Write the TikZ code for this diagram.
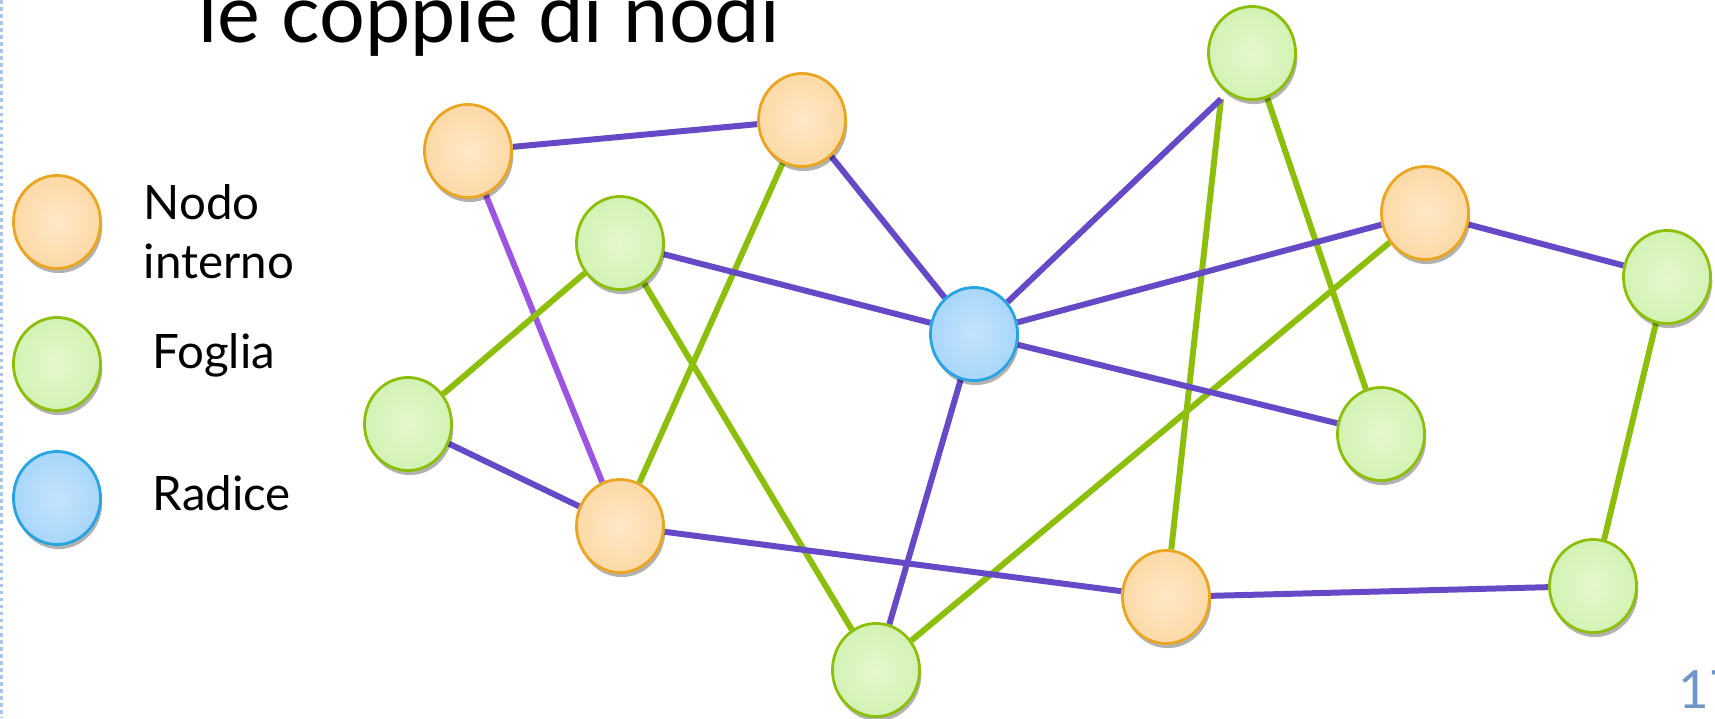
\documentclass[tikz,border=0pt]{standalone}
\usepackage{fontspec}
\setmainfont{Lato}
\usetikzlibrary{positioning,shapes.geometric,shadows,backgrounds}

\definecolor{intdraw}{HTML}{E8A623}
\definecolor{intin}{HTML}{FFE8C8}
\definecolor{intout}{HTML}{FDD9A6}
\definecolor{leafdraw}{HTML}{8CBE0A}
\definecolor{leafin}{HTML}{E4F8CC}
\definecolor{leafout}{HTML}{D4F2B4}
\definecolor{raddraw}{HTML}{2AA4E0}
\definecolor{radin}{HTML}{C4E4FC}
\definecolor{radout}{HTML}{A8D6FA}
\definecolor{viola}{HTML}{6549C6}
\definecolor{violachiaro}{HTML}{9B55E2}
\definecolor{verde}{HTML}{8CBE0A}
\definecolor{bordo}{HTML}{A9C4E4}
\definecolor{pagina}{HTML}{7096C8}

\begin{document}
\begin{tikzpicture}[x=0.01cm, y=-0.01cm, node distance=0.45cm,
  ball/.style={ellipse, minimum width=0.87cm, minimum height=0.93cm, inner sep=0pt, line width=0.8pt,
    drop shadow={shadow xshift=0.5pt, shadow yshift=-1.3pt, opacity=0.3, fill=black}},
  interno/.style={ball, draw=intdraw, inner color=intin, outer color=intout},
  foglia/.style={ball, draw=leafdraw, inner color=leafin, outer color=leafout},
  radice/.style={ball, draw=raddraw, inner color=radin, outer color=radout},
  arco/.style={line width=1.7pt, draw=viola},
  arcochiaro/.style={line width=1.7pt, draw=violachiaro},
  arcoverde/.style={line width=1.7pt, draw=verde},
  legenda/.style={font=\fontsize{13.5}{16.5}\selectfont, align=left, inner sep=0pt, anchor=base west}]
\useasboundingbox (0,0) rectangle (1715,718);
\draw[bordo, line width=1pt, densely dotted] (1.5,0) -- (1.5,718);

% titolo e numero di pagina
\node[anchor=base west, inner sep=0pt, font=\fontsize{23}{28}\selectfont] (titolo) at (198,42) {le coppie di nodi};
\node[anchor=base west, inner sep=0pt, text=pagina, font=\fontsize{15}{18}\selectfont] (pag) at (1678,708) {17};

% legenda
\node[interno] (leg-int) at (57,222) {};
\node[foglia]  (leg-fog) at (57,364) {};
\node[radice]  (leg-rad) at (57,498) {};
\node[legenda] (txt-int) at (143,278) {Nodo\\interno};
\node[legenda] (txt-fog) at (152,368) {Foglia};
\node[legenda] (txt-rad) at (152,510) {Radice};

% albero
\node[interno] (a) at (468,151) {};
\node[interno] (b) at (802,120) {};
\node[foglia]  (c) at (1252,53) {};
\node[foglia]  (d) at (620,243) {};
\node[interno] (e) at (1425,213) {};
\node[foglia]  (f) at (1667,277) {};
\node[radice]  (r) at (974,334) {};
\node[foglia]  (g) at (408,424) {};
\node[foglia]  (h) at (1381,434) {};
\node[interno] (i) at (620,526) {};
\node[interno] (j) at (1166,597) {};
\node[foglia]  (k) at (1593,586) {};
\node[foglia]  (m) at (876,670) {};
\coordinate (p) at (1221,99);

\begin{scope}[on background layer]
\path (a) edge[arcochiaro] (i);
\path[arcoverde] (b) edge (i)
                 (d) edge (g)
                 (d) edge (m)
                 (k) edge (f)
                 (e) edge (m)
                 (j) edge (p)
                 (c) edge (h);
\path[arco] (a) edge (b)
            (b) edge (r)
            (d) edge (r)
            (g) edge (i)
            (i) edge (j)
            (j) edge (k)
            (e) edge (f)
            (e) edge (r)
            (r) edge (m)
            (r) edge (h)
            (r) edge (p);
\end{scope}
\end{tikzpicture}
\end{document}
